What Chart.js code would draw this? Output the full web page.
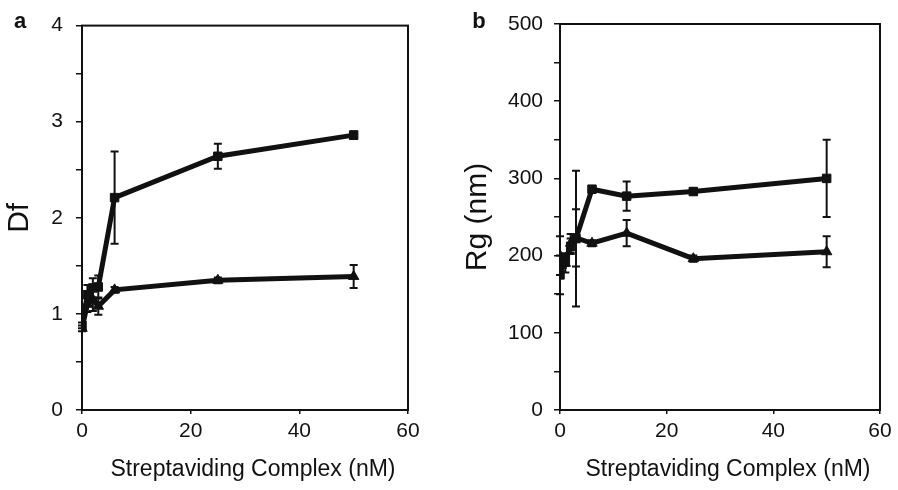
<!DOCTYPE html>
<html>
<head>
<meta charset="utf-8">
<script src="https://cdn.jsdelivr.net/npm/chart.js@4.4.1/dist/chart.umd.min.js"></script>
<style>
  body { margin: 0; background: #fff; }
  #wrap { position: relative; width: 898px; height: 490px; }
  canvas { position: absolute; top: 0; }
</style>
</head>
<body>
<div id="wrap">
  <canvas id="chartA" width="449" height="490" style="left:0"></canvas>
  <canvas id="chartB" width="449" height="490" style="left:449px"></canvas>
</div>
<script>
// panel a: fractal dimension
const concA = [0, 1, 2, 3, 6, 25, 50];
const dfSquare = [0.88, 1.2, 1.27, 1.28, 2.21, 2.64, 2.86];
const dfSquareErr = [0.03, 0.1, 0.1, 0.12, 0.48, 0.13, 0.04];
const dfTriangle = [0.85, 1.1, 1.15, 1.08, 1.25, 1.35, 1.39];
const dfTriangleErr = [0.03, 0.08, 0.12, 0.09, 0.03, 0.03, 0.12];

// panel b: radius of gyration
const concB = [0, 1, 2, 3, 6, 12.5, 25, 50];
const rgSquare = [175, 195, 212, 222, 286, 277, 283, 300];
const rgSquareErr = [25, 8, 10, 88, 4, 19, 4, 50];
const rgTriangle = [200, 190, 216, 223, 216, 229, 196, 205];
const rgTriangleErr = [25, 12, 12, 37, 4, 17, 4, 20];

const xTitle = 'Streptaviding Complex (nM)';
const ink = '#111';
const fontFamily = '"Liberation Sans", Arial, sans-serif';

const toPoints = (xs, ys) => xs.map((x, i) => ({ x: x, y: ys[i] }));

// error bars, frame, titles and panel letter
const extras = {
  id: 'extras',
  afterDatasetsDraw(chart, args, opts) {
    const { ctx, chartArea, scales } = chart;
    ctx.save();
    ctx.strokeStyle = ink;
    ctx.lineWidth = 2;
    chart.data.datasets.forEach(ds => {
      ds.data.forEach((p, i) => {
        const e = ds.err[i];
        const px = scales.x.getPixelForValue(p.x);
        const top = scales.y.getPixelForValue(p.y + e);
        const bot = scales.y.getPixelForValue(p.y - e);
        ctx.beginPath();
        ctx.moveTo(px, top); ctx.lineTo(px, bot);
        ctx.moveTo(px - 4, top); ctx.lineTo(px + 4, top);
        ctx.moveTo(px - 4, bot); ctx.lineTo(px + 4, bot);
        ctx.stroke();
      });
    });
    // box round the plot
    ctx.lineWidth = 2;
    ctx.strokeRect(chartArea.left, chartArea.top, chartArea.right - chartArea.left, chartArea.bottom - chartArea.top);

    ctx.fillStyle = ink;
    ctx.textBaseline = 'middle';
    ctx.textAlign = 'center';
    // panel letter
    ctx.font = 'bold 22px ' + fontFamily;
    ctx.fillText(opts.letter, opts.letterX, 22);
    // x title
    ctx.font = '23px ' + fontFamily;
    ctx.fillText(xTitle, (chartArea.left + chartArea.right) / 2 + 8, 470);
    // y title
    ctx.font = '30px ' + fontFamily;
    ctx.translate(opts.yTitleX, (chartArea.top + chartArea.bottom) / 2);
    ctx.rotate(-Math.PI / 2);
    ctx.fillText(opts.yTitle, 0, 0);
    ctx.restore();
  }
};

function makePanel(id, cfg) {
  const line = (data, err, style) => ({
    data: data,
    err: err,
    borderColor: ink,
    backgroundColor: ink,
    borderWidth: 5,
    pointStyle: style,
    pointRadius: 6,
    pointBorderWidth: 1,
    showLine: true,
    tension: 0
  });
  return new Chart(document.getElementById(id), {
    type: 'scatter',
    data: {
      datasets: [
        line(cfg.square, cfg.squareErr, 'rect'),
        line(cfg.triangle, cfg.triangleErr, 'triangle')
      ]
    },
    options: {
      responsive: false,
      animation: false,
      layout: { padding: { top: cfg.top, right: cfg.right } },
      plugins: {
        legend: { display: false },
        tooltip: { enabled: false },
        extras: { letter: cfg.letter, letterX: cfg.letterX, yTitle: cfg.yTitle, yTitleX: cfg.yTitleX }
      },
      scales: {
        x: {
          type: 'linear', min: 0, max: 60,
          ticks: { stepSize: 20, color: ink, padding: 5, font: { family: fontFamily, size: 21 } },
          grid: { drawOnChartArea: false, tickLength: 4, color: ink, lineWidth: 1.5 },
          border: { color: ink, width: 2 },
          afterFit: s => { s.height = 80; }
        },
        y: {
          min: 0, max: cfg.yMax,
          ticks: {
            stepSize: cfg.yStep, color: ink, padding: cfg.tickPad,
            font: { family: fontFamily, size: 21 },
            callback: v => (v % (cfg.yStep * 2) === 0 ? v : '')
          },
          grid: { drawOnChartArea: false, tickLength: 6, color: ink, lineWidth: 1.5 },
          border: { color: ink, width: 2 },
          afterFit: s => { s.width = cfg.yWidth; }
        }
      }
    },
    plugins: [extras]
  });
}

makePanel('chartA', {
  square: toPoints(concA, dfSquare), squareErr: dfSquareErr,
  triangle: toPoints(concA, dfTriangle), triangleErr: dfTriangleErr,
  yMax: 4, yStep: 0.5, yTitle: 'Df', yTitleX: 20, tickPad: 13,
  yWidth: 82, top: 23, right: 41, letter: 'a', letterX: 20
});

makePanel('chartB', {
  square: toPoints(concB, rgSquare), squareErr: rgSquareErr,
  triangle: toPoints(concB, rgTriangle), triangleErr: rgTriangleErr,
  yMax: 500, yStep: 50, yTitle: 'Rg (nm)', yTitleX: 29, tickPad: 11,
  yWidth: 111, top: 24, right: 18, letter: 'b', letterX: 30
});
</script>
</body>
</html>
